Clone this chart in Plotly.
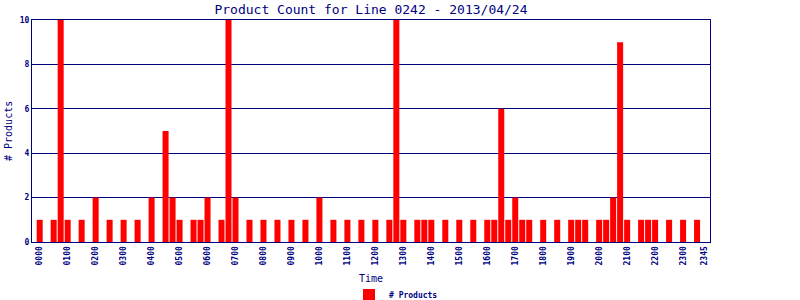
import plotly.graph_objects as go

times = ["%02d%02d" % (h, m) for h in range(24) for m in (0, 15, 30, 45)]
products = [1, 0, 1, 10, 1, 0, 1, 0, 2, 0, 1, 0, 1, 0, 1, 0,
            2, 0, 5, 2, 1, 0, 1, 1, 2, 0, 1, 10, 2, 0, 1, 0,
            1, 0, 1, 0, 1, 0, 1, 0, 2, 0, 1, 0, 1, 0, 1, 0,
            1, 0, 1, 10, 1, 0, 1, 1, 1, 0, 1, 0, 1, 0, 1, 0,
            1, 1, 6, 1, 2, 1, 1, 0, 1, 0, 1, 0, 1, 1, 1, 0,
            1, 1, 2, 9, 1, 0, 1, 1, 1, 0, 1, 0, 1, 0, 1, 0]
tick_labels = [t for t in times if t.endswith("00")] + ["2345"]
y_ticks = [0, 2, 4, 6, 8, 10]

NAVY = "#000080"
FONT = "DejaVu Sans Mono"

fig = go.Figure()
fig.add_trace(go.Bar(
    x=times, y=products, name="# Products",
    marker=dict(color="#ff0000", line=dict(width=0)),
    showlegend=True,
))

fig.update_layout(
    width=800, height=300,
    margin=dict(l=32, r=90, t=20, b=58, autoexpand=False),
    paper_bgcolor="white", plot_bgcolor="white",
    bargap=0.14,
    font=dict(family=FONT, color=NAVY),
    title=dict(text="Product Count for Line 0242 - 2013/04/24",
               x=(32 + 710) / 2 / 800, xanchor="center", y=1 - 9 / 300, yanchor="middle",
               font=dict(size=13, color=NAVY, family=FONT)),
    xaxis=dict(
        type="category", categoryorder="array", categoryarray=times,
        range=[-1.1, 95.85], automargin=False,
        tickmode="array", tickvals=tick_labels, ticktext=tick_labels,
        tickangle=-90, tickfont=dict(size=8, color=NAVY, family=FONT, weight="bold"),
        showgrid=False, showline=True, linecolor=NAVY, linewidth=1, mirror=True,
        ticks="", ticklen=0,
    ),
    yaxis=dict(
        range=[0, 10], tickvals=y_ticks, automargin=False,
        tickfont=dict(size=8, color=NAVY, family=FONT, weight="bold"),
        showgrid=True, gridcolor=NAVY, gridwidth=1,
        showline=True, linecolor=NAVY, linewidth=1, mirror=True,
        zeroline=False, ticks="",
    ),
    legend=dict(orientation="h", x=(396 - 32) / 678, xanchor="center",
                y=(242 - 295) / 222, yanchor="middle",
                font=dict(size=8, color=NAVY, family=FONT, weight="bold"),
                bgcolor="rgba(0,0,0,0)"),
    annotations=[
        dict(text="Time", xref="paper", yref="paper", x=0.5, y=(242 - 278) / 222,
             xanchor="center", yanchor="middle", showarrow=False,
             font=dict(size=10, color=NAVY, family=FONT)),
        dict(text="# Products", xref="paper", yref="paper", x=(8 - 32) / 678, y=0.5,
             xanchor="center", yanchor="middle", showarrow=False, textangle=-90,
             font=dict(size=10, color=NAVY, family=FONT)),
    ],
)

fig.write_html("out.html")
